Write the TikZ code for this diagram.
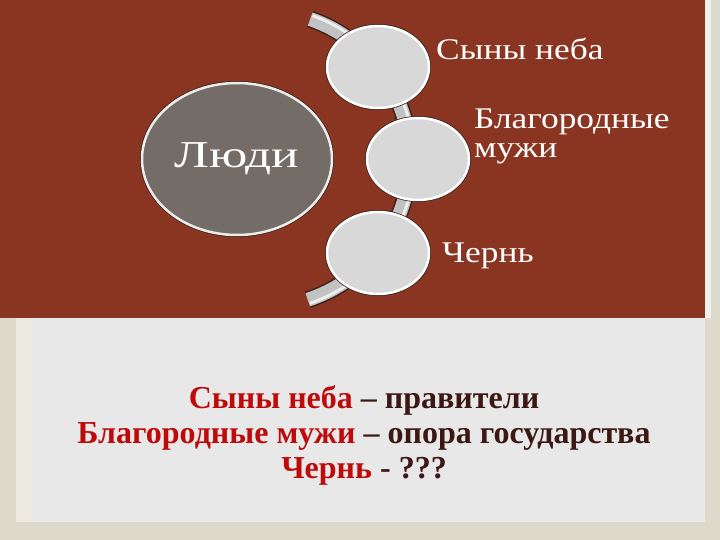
\documentclass[tikz,border=0pt]{standalone}
\usepackage{fontspec}
\setmainfont{Liberation Serif}
\usetikzlibrary{shapes.geometric}
\definecolor{bgbeige}{HTML}{DEDACB}
\definecolor{panelgray}{HTML}{E8E8E8}
\definecolor{brownbg}{HTML}{8A3522}
\definecolor{bigfill}{HTML}{746C66}
\definecolor{smallfill}{HTML}{D8D8D8}
\definecolor{rimdark}{HTML}{3A2218}
\definecolor{bandgray}{HTML}{C2C2C2}
\definecolor{redtxt}{HTML}{BE0A0A}
\definecolor{darktxt}{HTML}{3C1812}
\newcommand{\wide}[2]{\scalebox{#1}[1]{#2}}
\tikzset{
  bigcirc/.style={ellipse, fill=bigfill, draw=white!85!gray, line width=2.5pt,
    preaction={draw=rimdark, line width=4pt}, minimum width=190pt, minimum height=152pt,
    inner sep=0pt, text=white, font=\fontsize{38}{40}\selectfont},
  smallcirc/.style={ellipse, fill=smallfill, draw=white, line width=2.5pt,
    preaction={draw=rimdark, line width=4pt}, minimum width=102pt, minimum height=82pt, inner sep=0pt},
  lbl/.style={anchor=base west, text=white, font=\fontsize{30}{29}\selectfont, inner sep=0pt, align=left},
  bottomtxt/.style={anchor=base, font=\bfseries\fontsize{32}{35}\selectfont, text=darktxt, inner sep=0pt}
}
\begin{document}
\begin{tikzpicture}[x=1pt,y=-1pt]
\useasboundingbox (0,0) rectangle (720,540);
\fill[bgbeige] (0,0) rectangle (720,540);
\fill[white!40!bgbeige] (16,318) rectangle (32,522);
\fill[panelgray] (32,318) rectangle (705,522);
\fill[white!60!bgbeige] (705,0) rectangle (711,318);
\fill[brownbg] (0,0) rectangle (705,318);
% band
\coordinate (bc) at (262,159);
\draw[rimdark, line width=17pt] (bc) ++(-71:148) arc[start angle=-71, end angle=72, radius=148];
\draw[bandgray, line width=14pt] (bc) ++(-71:148) arc[start angle=-71, end angle=72, radius=148];
\draw[white!70!bandgray, line width=3pt] (bc) ++(-70.6:152) arc[start angle=-70.6, end angle=71.6, radius=152];
% circles
\node[bigcirc] (people) at (237,159) {\wide{1.35}{Люди}};
\node[smallcirc] (c1) at (378,67) {};
\node[smallcirc] (c2) at (418,159) {};
\node[smallcirc] (c3) at (378,253) {};
% labels
\node[lbl] (l1) at (436,60) {\wide{1.18}{Сыны неба}};
\node[lbl] (l2) at (474,158) {\wide{1.18}{Благородные}\\\wide{1.18}{мужи}};
\node[lbl] (l3) at (442,262) {\wide{1.18}{Чернь}};
% bottom text
\node[bottomtxt] (t1) at (364,408) {\textcolor{redtxt}{Сыны неба} – правители};
\node[bottomtxt] (t2) at (364,443) {\textcolor{redtxt}{Благородные мужи} – опора государства};
\node[bottomtxt] (t3) at (364,478) {\textcolor{redtxt}{Чернь} - ???};
\end{tikzpicture}
\end{document}
